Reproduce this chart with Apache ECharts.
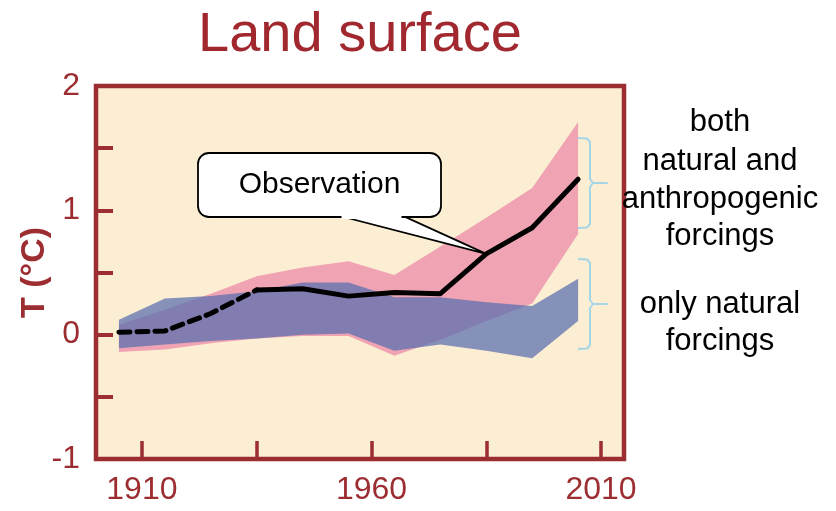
<!DOCTYPE html>
<html>
<head>
<meta charset="utf-8">
<script src="https://cdn.jsdelivr.net/npm/echarts@6/dist/echarts.min.js"></script>
<style>
html,body{margin:0;padding:0;background:#fff;}
#c{width:836px;height:511px;}
</style>
</head>
<body>
<div id="c"></div>
<script>
// ---- data ----
var years = [1905, 1915, 1925, 1935, 1945, 1955, 1965, 1975, 1985, 1995, 2005];
var obsDashed = [0.02, 0.03, 0.17, 0.36, null, null, null, null, null, null, null];
var obsSolid  = [null, null, null, 0.36, 0.37, 0.31, 0.34, 0.33, 0.65, 0.86, 1.25];
var bothUpper = [0.08, 0.20, 0.33, 0.47, 0.54, 0.59, 0.48, 0.71, 0.94, 1.18, 1.71];
var bothLower = [-0.14, -0.12, -0.07, -0.03, -0.01, -0.01, -0.17, -0.04, 0.11, 0.25, 0.81];
var natUpper  = [0.12, 0.29, 0.31, 0.35, 0.42, 0.42, 0.30, 0.30, 0.26, 0.23, 0.45];
var natLower  = [-0.11, -0.08, -0.05, -0.03, 0.00, 0.01, -0.13, -0.08, -0.13, -0.19, 0.11];
var xTicks = [1910, 1935, 1960, 1985, 2010];
var xTickLabels = [1910, 1960, 2010];
var yTicks = [-1, -0.5, 0, 0.5, 1, 1.5, 2];
var yTickLabels = [-1, 0, 1, 2];
var calloutYear = 1985;

function pairs(vals) { return years.map(function (y, i) { return [y, vals[i]]; }); }
function bandData(lo, up) { return years.map(function (y, i) { return [y, lo[i], up[i]]; }); }

var RED = '#9c2d31';
var FONT = '"Liberation Sans", Arial, sans-serif';

function bandRenderer(fill, opacity) {
  return function (params, api) {
    if (params.dataIndex !== 0) return null;
    var top = [], bot = [];
    for (var i = 0; i < years.length; i++) {
      top.push(api.coord([api.value(0, i), api.value(2, i)]));
      bot.push(api.coord([api.value(0, i), api.value(1, i)]));
    }
    var pts = top.concat(bot.reverse());
    return {type: 'polygon', shape: {points: pts},
      style: {fill: fill, opacity: opacity}};
  };
}

var chart = echarts.init(document.getElementById('c'), null, {renderer: 'canvas'});
var option = {
  animation: false,
  backgroundColor: '#ffffff',
  title: {
    text: 'Land surface',
    left: 193, top: 3,
    textStyle: {color: '#a0282e', fontSize: 56, fontWeight: 'normal', fontFamily: FONT}
  },
  grid: {
    left: 96, right: 212, top: 86, bottom: 52,
    show: true, backgroundColor: '#fbeed2', borderColor: RED, borderWidth: 4.5
  },
  xAxis: {
    type: 'value', min: 1900, max: 2015,
    axisLine: {show: false, onZero: false},
    splitLine: {show: false},
    axisTick: {show: true, inside: true, length: 18, customValues: xTicks,
      lineStyle: {color: RED, width: 3.5}},
    axisLabel: {customValues: xTickLabels, margin: 15, color: RED, fontSize: 32, fontFamily: FONT,
      formatter: function (v) { return String(v); }}
  },
  yAxis: {
    type: 'value', min: -1, max: 2, interval: 0.5,
    name: 'T (\u00B0C)', nameLocation: 'middle', nameRotate: 90, nameGap: 44,
    nameMoveOverlap: false,
    nameTextStyle: {color: RED, fontSize: 34, fontWeight: 'bold', fontFamily: FONT},
    axisLine: {show: false, onZero: false},
    splitLine: {show: false},
    axisTick: {show: true, inside: true, length: 17, customValues: yTicks,
      lineStyle: {color: RED, width: 4}},
    axisLabel: {customValues: yTickLabels, margin: 16, color: RED, fontSize: 32, fontFamily: FONT,
      formatter: function (v) { return String(v); }}
  },
  series: [
    {name: 'both natural and anthropogenic forcings', type: 'custom', data: bandData(bothLower, bothUpper),
      encode: {x: 0, y: [1, 2]}, renderItem: bandRenderer('#f0a4b3', 1), silent: true, z: 1, clip: true},
    {name: 'only natural forcings', type: 'custom', data: bandData(natLower, natUpper),
      encode: {x: 0, y: [1, 2]}, renderItem: bandRenderer('rgb(87,110,174)', 0.72), silent: true, z: 2, clip: true},
    {name: 'obsDashed', type: 'line', data: pairs(obsDashed), symbol: 'none', z: 5,
      lineStyle: {color: '#000', width: 5, type: [11, 7], cap: 'round', join: 'round'}},
    {name: 'obsSolid', type: 'line', data: pairs(obsSolid), symbol: 'none', z: 5,
      lineStyle: {color: '#000', width: 5, cap: 'round', join: 'round'}}
  ]
};
chart.setOption(option);

// callout pointing to the observation line
var idx = years.indexOf(calloutYear);
var tip = chart.convertToPixel({xAxisIndex: 0, yAxisIndex: 0}, [calloutYear, obsSolid[idx]]);
var bx = 198, by = 153, bw = 243, bh = 64;
var braceColor = '#a6d6e6';
function brace(x, y0, y1, xr) {
  var ym = (y0 + y1) / 2;
  return {type: 'polyline', shape: {points: [
    [x - 12, y0], [x - 3, y0 + 0.5], [x, y0 + 4], [x, ym - 4], [x + 3, ym], [xr, ym],
    [x + 3, ym], [x, ym + 4], [x, y1 - 4], [x - 3, y1 - 0.5], [x - 12, y1]
  ]}, style: {stroke: braceColor, lineWidth: 2, fill: null, lineJoin: 'round'}, z: 20};
}
var txt = function (s, x, baseline) {
  return {type: 'text', x: x, y: baseline - 11, z: 30,
    style: {text: s, fill: '#000', font: '31px ' + FONT, align: 'center', verticalAlign: 'middle'}};
};
chart.setOption({
  graphic: [
    {type: 'polygon', shape: {points: [[340, by + bh - 1], [403, by + bh - 1], [tip[0], tip[1]]]},
      style: {fill: '#fff', stroke: '#000', lineWidth: 1.8, lineJoin: 'miter'}, z: 40},
    {type: 'rect', shape: {x: bx, y: by, width: bw, height: bh, r: 11},
      style: {fill: '#fff', stroke: '#000', lineWidth: 1.8}, z: 41},
    {type: 'rect', shape: {x: 341.5, y: by + bh - 3, width: 60, height: 5},
      style: {fill: '#fff'}, z: 42},
    {type: 'text', x: bx + bw / 2, y: by + bh / 2, z: 43,
      style: {text: 'Observation', fill: '#000', font: '30px ' + FONT, align: 'center', verticalAlign: 'middle'}},
    brace(590, 138, 228, 607),
    brace(590, 259, 349, 607),
    txt('both', 720, 133),
    txt('natural and', 720, 172),
    txt('anthropogenic', 720, 210),
    txt('forcings', 720, 247),
    txt('only natural', 720, 315),
    txt('forcings', 720, 352)
  ]
});
</script>
</body>
</html>
